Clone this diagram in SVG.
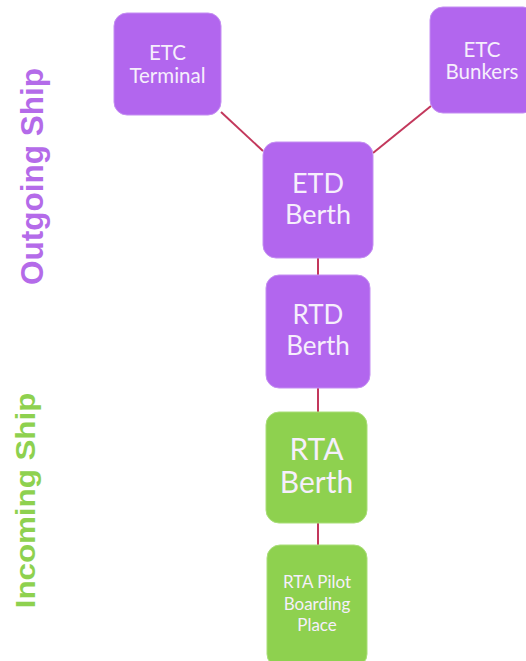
<svg xmlns="http://www.w3.org/2000/svg" width="526" height="661" viewBox="0 0 526 661">
<style>
.p{fill:#b266ee;stroke:#c48ef2;stroke-width:1}
.g{fill:#8ed14f;stroke:#a9de78;stroke-width:1}
.t{fill:#f6effc;font-family:Lato,"Noto Sans",sans-serif;text-anchor:middle}
.side{font-family:"Liberation Sans",Arial,sans-serif;font-weight:bold;text-anchor:middle}
.c line{stroke:#c3385c;stroke-width:2}
</style>
<rect width="526" height="661" fill="#ffffff"/>
<g class="c" id="connectors">
<line x1="221" y1="112" x2="263" y2="151"/>
<line x1="431" y1="106" x2="373" y2="153"/>
<line x1="318" y1="258" x2="318" y2="275"/>
<line x1="318" y1="388" x2="318" y2="412"/>
<line x1="318" y1="523" x2="318" y2="545"/>
</g>
<g id="etc-terminal">
<rect class="p" x="114" y="13" width="107" height="102" rx="13"/>
<text class="t" x="167.5" y="60" font-size="20.5">ETC</text>
<text class="t" x="167.5" y="83" font-size="20.5">Terminal</text>
</g>
<g id="etc-bunkers">
<rect class="p" x="430" y="7" width="106" height="106" rx="13"/>
<text class="t" x="482" y="57" font-size="20.5">ETC</text>
<text class="t" x="482" y="79" font-size="20.5">Bunkers</text>
</g>
<g id="etd-berth">
<rect class="p" x="263" y="142" width="110" height="116" rx="13"/>
<text class="t" x="318" y="193" font-size="27">ETD</text>
<text class="t" x="318" y="224" font-size="27">Berth</text>
</g>
<g id="rtd-berth">
<rect class="p" x="266" y="275" width="104" height="113" rx="13"/>
<text class="t" x="318" y="324" font-size="26">RTD</text>
<text class="t" x="318" y="355" font-size="26">Berth</text>
</g>
<g id="rta-berth">
<rect class="g" x="266" y="412" width="101" height="111" rx="13"/>
<text class="t" x="316.5" y="460" font-size="30">RTA</text>
<text class="t" x="316.5" y="493" font-size="30">Berth</text>
</g>
<g id="rta-pilot">
<rect class="g" x="267" y="545" width="100" height="122" rx="13"/>
<text class="t" x="317" y="588" font-size="17">RTA Pilot</text>
<text class="t" x="317" y="610" font-size="17">Boarding</text>
<text class="t" x="317" y="631" font-size="17">Place</text>
</g>
<g id="label-outgoing">
<text class="side" fill="#b46be9" font-size="31.5" transform="translate(43,176.5) rotate(-90)">Outgoing Ship</text>
</g>
<g id="label-incoming">
<text class="side" fill="#8ed14f" font-size="27" transform="translate(34.5,500.5) rotate(-90) scale(1.16,1)">Incoming Ship</text>
</g>
</svg>
